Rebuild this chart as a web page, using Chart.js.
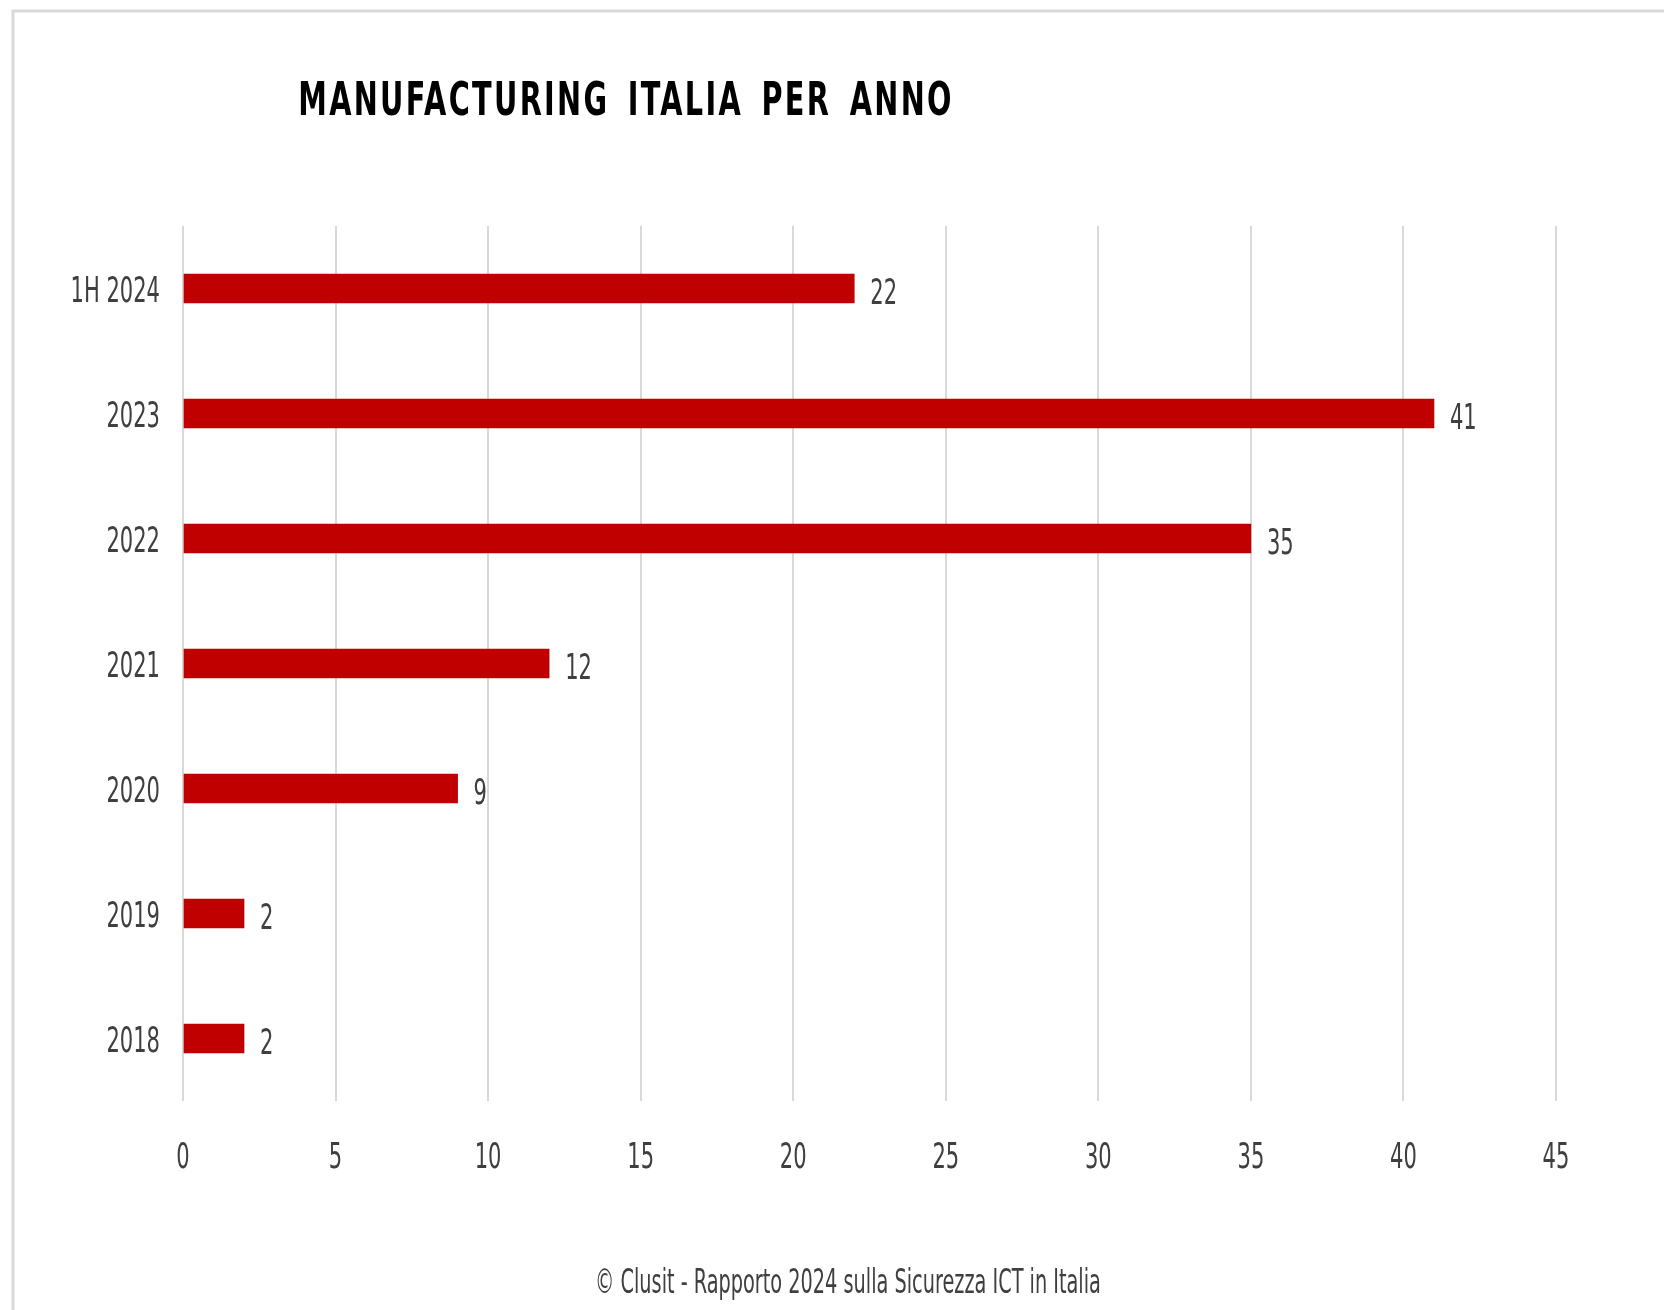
<!DOCTYPE html>
<html>
<head>
<meta charset="utf-8">
<script src="https://cdn.jsdelivr.net/npm/chart.js@4.4.1/dist/chart.umd.min.js"></script>
<style>
  html, body { margin: 0; padding: 0; background: #fff; }
  #wrap { width: 1664px; height: 1310px; }
</style>
</head>
<body>
<div id="wrap"><canvas id="manufChart" width="1664" height="1310"></canvas></div>
<script>
const categories = ['1H 2024', '2023', '2022', '2021', '2020', '2019', '2018'];
const attacks = [22, 41, 35, 12, 9, 2, 2];
const axisMax = 45;
const axisStep = 5;
const chartTitle = 'MANUFACTURING ITALIA PER ANNO';
const sourceNote = '\u00A9 Clusit - Rapporto 2024 sulla Sicurezza ICT in Italia';

const narrow = "'Liberation Sans Narrow', 'DejaVu Sans Condensed', sans-serif";
const textGray = '#3f3f3f';
const numSize = 36;
const squeeze = 0.65;

// draws text narrowed horizontally; y is the baseline
function drawNarrow(ctx, text, x, y, align, font, sx, color, spacing, wordGap) {
    ctx.save();
    ctx.font = font;
    ctx.fillStyle = color;
    ctx.textAlign = align;
    ctx.textBaseline = 'alphabetic';
    if (spacing && 'letterSpacing' in ctx) ctx.letterSpacing = spacing;
    if (wordGap && 'wordSpacing' in ctx) ctx.wordSpacing = wordGap;
    ctx.translate(x, y);
    ctx.scale(sx, 1);
    ctx.fillText(text, 0, 0);
    ctx.restore();
}

// white page, frame line, title and source line
const framePlugin = {
    id: 'frame',
    beforeDraw(chart) {
        const ctx = chart.ctx;
        ctx.save();
        ctx.fillStyle = '#ffffff';
        ctx.fillRect(0, 0, chart.width, chart.height);
        ctx.strokeStyle = '#d9d9d9';
        ctx.lineWidth = 3;
        ctx.beginPath();
        ctx.moveTo(13, chart.height);
        ctx.lineTo(13, 11);
        ctx.lineTo(chart.width, 11);
        ctx.stroke();
        ctx.restore();
    },
    afterDraw(chart) {
        const ctx = chart.ctx;
        drawNarrow(ctx, chartTitle, 626, 115, 'center', 'bold 47px ' + narrow, 0.68, '#000000', '3.4px', '9px');
        drawNarrow(ctx, sourceNote, 848, 1293, 'center', '33px ' + narrow, 0.65, textGray);
    }
};

// tick labels of both axes, placed from the scales
const tickLabels = {
    id: 'tickLabels',
    afterDraw(chart) {
        const ctx = chart.ctx;
        const font = numSize + 'px ' + narrow;
        const half = Math.round(numSize * 0.729 / 2);
        const ys = chart.scales.y;
        ys.ticks.forEach(function(t, i) {
            drawNarrow(ctx, String(ys.getLabelForValue(t.value)), ys.right - 23, ys.getPixelForTick(i) + half, 'right', font, squeeze, textGray);
        });
        const xs = chart.scales.x;
        xs.ticks.forEach(function(t, i) {
            drawNarrow(ctx, String(t.value), xs.getPixelForTick(i), xs.top + 54 + half, 'center', font, squeeze, textGray);
        });
    }
};

// value printed right of each bar
const valueLabels = {
    id: 'valueLabels',
    afterDatasetsDraw(chart) {
        const ctx = chart.ctx;
        const meta = chart.getDatasetMeta(0);
        const font = numSize + 'px ' + narrow;
        const half = Math.round(numSize * 0.729 / 2);
        meta.data.forEach(function(bar, i) {
            drawNarrow(ctx, String(attacks[i]), bar.x + 16, bar.y + 2 + half, 'left', font, squeeze, textGray);
        });
    }
};

const ctxManuf = document.getElementById('manufChart').getContext('2d');
const manufChart = new Chart(ctxManuf, {
    type: 'bar',
    data: {
        labels: categories,
        datasets: [{
            label: 'Manufacturing',
            data: attacks,
            backgroundColor: '#c00000',
            borderWidth: 0,
            barThickness: 29
        }]
    },
    options: {
        indexAxis: 'y',
        responsive: false,
        animation: false,
        devicePixelRatio: 1,
        layout: {
            padding: { left: 0, right: 108, top: 226, bottom: 108 }
        },
        scales: {
            x: {
                min: 0,
                max: axisMax,
                ticks: { stepSize: axisStep, display: false },
                grid: {
                    color: '#d9d9d9',
                    lineWidth: 2,
                    drawTicks: false
                },
                border: { display: false },
                afterFit: function(scale) { scale.height = 101; }
            },
            y: {
                ticks: { display: false },
                grid: { display: false, drawTicks: false },
                border: { display: false },
                afterFit: function(scale) { scale.width = 183; }
            }
        },
        plugins: {
            legend: { display: false },
            title: { display: false },
            tooltip: { enabled: false }
        }
    },
    plugins: [framePlugin, tickLabels, valueLabels]
});
</script>
</body>
</html>
